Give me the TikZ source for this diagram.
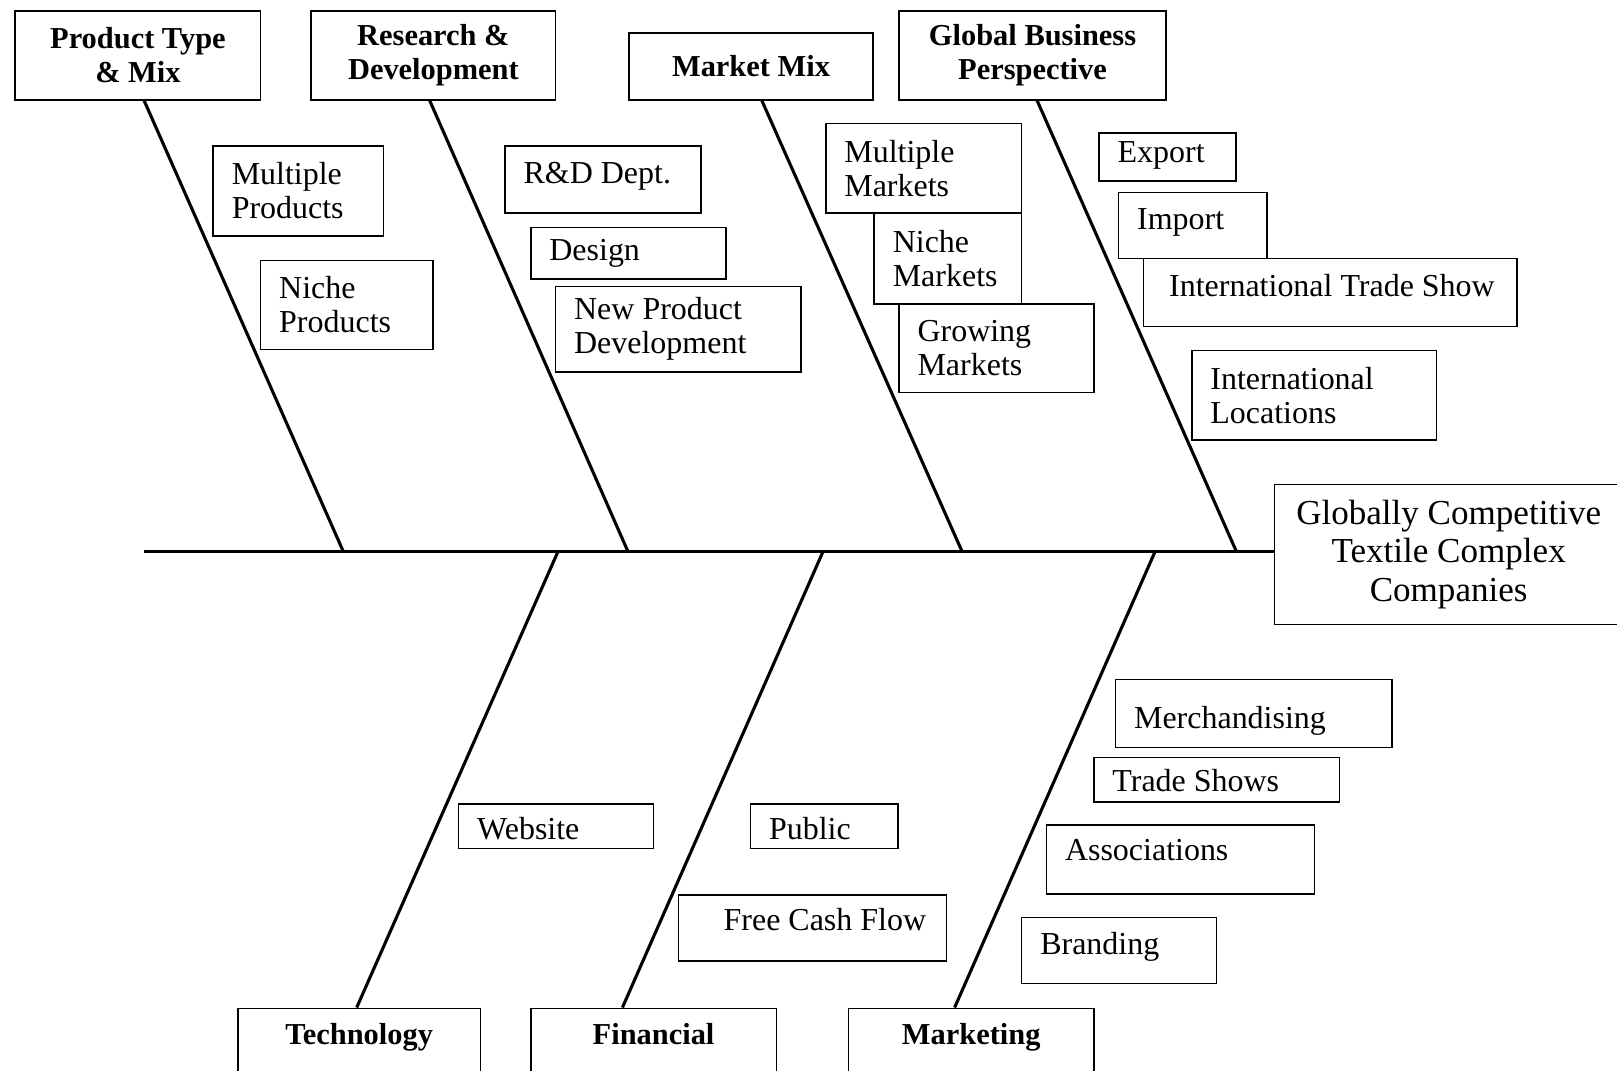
\documentclass[tikz,border=0pt]{standalone}
\usepackage{fontspec}
\setmainfont{Liberation Serif}
\usetikzlibrary{calc}

\begin{document}
\begin{tikzpicture}[
    x=1pt, y=-1pt,
    every node/.style={font=\fontsize{31}{33}\selectfont},
    head/.style={draw, line width=1.5pt, align=center, anchor=north west, inner sep=0pt, font=\fontsize{29.5}{33}\selectfont\bfseries},
    foot/.style={draw, line width=1.5pt, anchor=north west, inner sep=0pt, text height=35pt, text depth=90pt, font=\fontsize{29.5}{33}\selectfont\bfseries},
    leaf/.style={draw, line width=1.5pt, align=flush left, anchor=north west, inner xsep=18pt, inner ysep=0pt},
    lift/.style 2 args={text height=#1pt, text depth=#2pt},
    goal/.style={draw, line width=1.5pt, align=center, anchor=north west, inner sep=0pt, font=\fontsize{34}{37}\selectfont},
    bone/.style={line width=3pt}
]
\useasboundingbox (0,0) rectangle (1568,1038);
\clip (0,0) rectangle (1568,1038);

\node[head, minimum width=238pt, minimum height=86pt] (ptype) at (14,10) {Product Type\\\& Mix};
\node[head, minimum width=237pt, minimum height=86pt] (rnd) at (301,10) {Research \&\\Development};
\node[head, minimum width=237pt, minimum height=65pt] (mmix) at (609,31) {Market Mix};
\node[head, minimum width=259pt, minimum height=86pt] (gbp) at (871,10) {Global Business\\Perspective};
\node[foot, minimum width=235pt] (tech) at (230,977) {Technology};
\node[foot, minimum width=238pt] (fin) at (514,977) {Financial};
\node[foot, minimum width=238pt] (mkt) at (822,977) {Marketing};
\node[goal, minimum width=338pt, minimum height=136pt] (goal) at (1235,469) {Globally Competitive\\Textile Complex\\Companies};

\node[leaf, text width=129pt, minimum height=87pt] (mprod) at (206,141) {Multiple\\Products};
\node[leaf, text width=131pt, minimum height=86pt] (nprod) at (252,252) {Niche\\Products};
\node[leaf, lift={22}{14}, text width=154pt, minimum height=65pt] (rddept) at (489,141) {\mbox{R\&D Dept.}};
\node[leaf, text width=153pt, minimum height=50pt] (design) at (514,220) {Design};
\node[leaf, text width=202pt, minimum height=83pt] (npd) at (538,277) {\mbox{New Product}\\Development};
\node[leaf, text width=154pt, minimum height=87pt] (mmkt) at (800,119) {Multiple\\Markets};
\node[leaf, text width=107pt, minimum height=88pt] (nmkt) at (847,206) {Niche\\Markets};
\node[leaf, text width=153pt, minimum height=86pt] (gmkt) at (871,294) {Growing\\Markets};
\node[leaf, lift={22}{11}, text width=97pt, minimum height=47pt] (export) at (1065,128) {Export};
\node[leaf, lift={22}{14}, text width=108pt, minimum height=64pt] (import) at (1084,186) {Import};
\node[leaf, lift={22}{14}, text width=326pt, minimum height=66pt] (itshow) at (1108,250) {\mbox{\hspace*{7pt}International Trade Show}};
\node[leaf, text width=201pt, minimum height=87pt] (iloc) at (1155,339) {International\\Locations};
\node[leaf, lift={30}{4}, text width=153pt, minimum height=43pt] (website) at (444,779) {Website};
\node[leaf, lift={30}{4}, text width=107pt, minimum height=43pt] (public) at (727,779) {Public};
\node[leaf, lift={22}{17}, text width=224pt, minimum height=64pt] (fcf) at (657,867) {\mbox{\hspace*{26pt}Free Cash Flow}};
\node[leaf, lift={30}{1}, text width=232pt, minimum height=66pt] (merch) at (1081,658) {Merchandising};
\node[leaf, lift={29}{7}, text width=202pt, minimum height=43pt] (tshows) at (1060,734) {\mbox{Trade Shows}};
\node[leaf, lift={22}{19}, text width=224pt, minimum height=67pt] (assoc) at (1014,799) {Associations};
\node[leaf, lift={22}{15}, text width=153pt, minimum height=64pt] (brand) at (990,889) {Branding};

\coordinate (tail) at (140,535);
\coordinate (jp) at (333,535);
\coordinate (jr) at (609,535);
\coordinate (jm) at (933,535);
\coordinate (jg) at (1199,535);
\coordinate (jt) at (541,535);
\coordinate (jf) at (798,535);
\coordinate (jk) at (1120,535);

\draw[bone] (tail) -- (tail -| goal.west);
\draw[bone] ($(ptype.south west)!.525!(ptype.south east)$) -- (jp);
\draw[bone] ($(rnd.south west)!.485!(rnd.south east)$) -- (jr);
\draw[bone] ($(mmix.south west)!.544!(mmix.south east)$) -- (jm);
\draw[bone] ($(gbp.south west)!.517!(gbp.south east)$) -- (jg);
\draw[bone] ($(tech.north west)!.49!(tech.north east)$) -- (jt);
\draw[bone] ($(fin.north west)!.374!(fin.north east)$) -- (jf);
\draw[bone] ($(mkt.north west)!.433!(mkt.north east)$) -- (jk);
\end{tikzpicture}
\end{document}
